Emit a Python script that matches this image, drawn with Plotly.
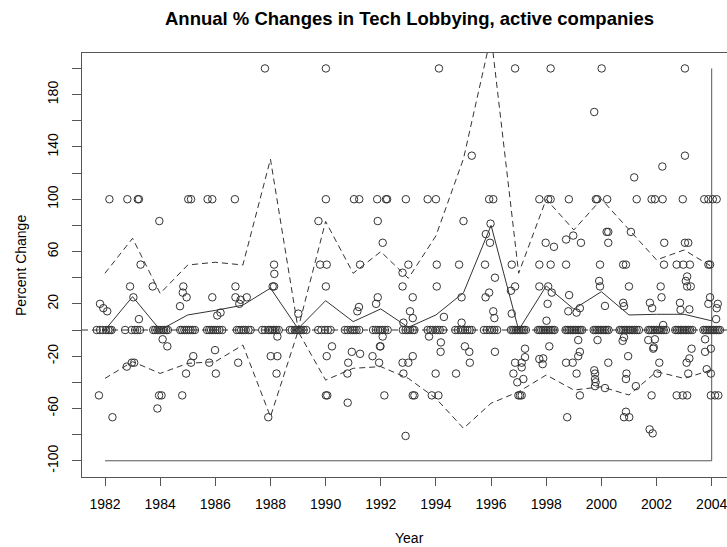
import plotly.graph_objects as go

# ---- yearly summary lines -------------------------------------------------
years = list(range(1982, 2005))
mean_pct = [0, 25.5, 0, 11.5, 15, 19, 32, 1, 22.4, 6.4, 16.1, 2, 11.5, 28.5,
            80, 0, 33.7, 16, 29.3, 11.5, 12, 12, 7]
upper_pct = [43.4, 70.1, 28, 49.7, 51.8, 49.7, 130.6, 1, 83, 43.4, 59.9, 39.5,
             72, 131, 225, 43.4, 100, 76.5, 100, 76.5, 53.6, 61.2, 48.5]
lower_pct = [-37, -24.2, -33.2, -25.5, -24.2, -11.5, -66.3, -1, -38.3, -29.3,
             -28, -37, -52.3, -75.2, -56, -47.2, -34.4, -45.9, -43.4, -49.7,
             -31.9, -37, -30.6]

# ---- companies with no change (jittered year positions) -------------------
zero_years = [
    1981.70, 1981.82, 1981.92, 1982.04, 1982.12, 1982.18, 1982.24,
    1982.73, 1982.97, 1983.09, 1983.17, 1983.27,
    1983.75, 1983.82, 1983.90, 1983.96, 1984.03, 1984.10, 1984.15, 1984.22, 1984.28,
    1984.73, 1984.80, 1984.88, 1984.95, 1985.03, 1985.10, 1985.18, 1985.26,
    1985.70, 1985.78, 1985.85, 1985.92, 1986.00, 1986.07, 1986.15, 1986.25,
    1986.78, 1986.86, 1986.94, 1987.02, 1987.10, 1987.20, 1987.28,
    1987.70, 1987.80, 1987.92, 1987.98, 1988.05, 1988.10, 1988.16, 1988.22, 1988.30,
    1988.70, 1988.78, 1988.88, 1988.94, 1989.00, 1989.06, 1989.12, 1989.20, 1989.30,
    1989.73, 1989.85, 1989.98, 1990.08, 1990.18,
    1990.70, 1990.80, 1990.90, 1990.98, 1991.05, 1991.12, 1991.22,
    1991.72, 1991.82, 1991.90, 1991.98, 1992.06, 1992.15, 1992.25,
    1992.80, 1992.90, 1992.98, 1993.06, 1993.16, 1993.22,
    1993.70, 1993.80, 1993.88, 1993.98, 1994.06, 1994.14, 1994.26,
    1994.70, 1994.80, 1994.90, 1994.98, 1995.06, 1995.14, 1995.22, 1995.30,
    1995.74, 1995.85, 1995.95, 1996.04, 1996.12, 1996.22,
    1996.72, 1996.78, 1996.84, 1996.90, 1996.96, 1997.02, 1997.08, 1997.14, 1997.20, 1997.26,
    1997.70, 1997.76, 1997.82, 1997.88, 1997.94, 1998.00, 1998.06, 1998.12, 1998.18, 1998.24, 1998.30,
    1998.70, 1998.76, 1998.82, 1998.88, 1998.94, 1999.00, 1999.06, 1999.12, 1999.18, 1999.24, 1999.30,
    1999.72, 1999.78, 1999.84, 1999.90, 1999.96, 2000.02, 2000.08, 2000.14, 2000.20, 2000.26,
    2000.66, 2000.72, 2000.78, 2000.84, 2000.90, 2000.96, 2001.02, 2001.08, 2001.14, 2001.20, 2001.28, 2001.36,
    2001.70, 2001.76, 2001.82, 2001.88, 2001.94, 2002.00, 2002.06, 2002.12, 2002.18, 2002.26, 2002.34,
    2002.68, 2002.74, 2002.80, 2002.86, 2002.92, 2002.98, 2003.04, 2003.10, 2003.16, 2003.22, 2003.30,
    2003.70, 2003.76, 2003.82, 2003.88, 2003.94, 2004.00, 2004.06, 2004.12, 2004.18, 2004.24, 2004.30,
]

# ---- companies whose lobbying changed (jittered year, % change) -----------
chg_years = [
    # 1982-1989
    1981.78, 1981.82, 1981.94, 1982.08, 1982.16, 1982.27, 1982.79, 1982.81, 1982.91,
    1982.97, 1983.03, 1983.06, 1983.19, 1983.23, 1983.23, 1983.29, 1983.73, 1983.90,
    1983.96, 1983.97, 1984.05, 1984.09, 1984.26, 1984.72, 1984.80, 1984.82, 1984.84,
    1984.94, 1984.96, 1985.02, 1985.12, 1985.12, 1985.20, 1985.72, 1985.78, 1985.89,
    1985.89, 1985.99, 1986.02, 1986.07, 1986.19, 1986.71, 1986.73, 1986.73, 1986.83,
    1986.87, 1986.92, 1987.14, 1987.80, 1987.92, 1988.01, 1988.08, 1988.13, 1988.13,
    1988.14, 1988.22, 1988.25, 1988.25, 1989.01,
    # 1990-1996
    1989.74, 1989.80, 1990.01, 1990.01, 1990.01, 1990.01, 1990.04, 1990.04, 1990.06,
    1990.23, 1990.79, 1990.80, 1990.82, 1990.95, 1991.03, 1991.15, 1991.21, 1991.22,
    1991.25, 1991.25, 1991.70, 1991.83, 1991.87, 1991.89, 1991.89, 1991.94, 1991.97,
    1991.99, 1992.07, 1992.07, 1992.13, 1992.19, 1992.23, 1992.79, 1992.79, 1992.79,
    1992.82, 1992.82, 1992.90, 1992.91, 1993.00, 1993.00, 1993.06, 1993.16, 1993.16,
    1993.16, 1993.16, 1993.22, 1993.70, 1993.75, 1993.85, 1993.99, 1994.00, 1994.03,
    1994.03, 1994.09, 1994.11, 1994.17, 1994.18, 1994.29, 1994.73, 1994.84, 1994.93,
    1994.93, 1995.00, 1995.05, 1995.21, 1995.23, 1995.30, 1995.78, 1995.80, 1995.81,
    1995.93, 1995.93, 1995.96, 1995.98, 1996.08, 1996.08, 1996.12, 1996.14, 1996.14,
    # 1997-2004
    1996.72, 1996.75, 1996.75, 1996.81, 1996.87, 1996.87, 1996.87, 1996.95, 1996.99,
    1997.05, 1997.11, 1997.11, 1997.11, 1997.17, 1997.23, 1997.23, 1997.75, 1997.75,
    1997.75, 1997.75, 1997.87, 1997.89, 1997.98, 1998.01, 1998.05, 1998.07, 1998.07,
    1998.11, 1998.16, 1998.16, 1998.16, 1998.20, 1998.28, 1998.72, 1998.72, 1998.72,
    1998.76, 1998.80, 1998.82, 1998.83, 1998.96, 1998.98, 1999.10, 1999.10, 1999.16,
    1999.16, 1999.22, 1999.22, 1999.22, 1999.26, 1999.74, 1999.74, 1999.77, 1999.77,
    1999.77, 1999.79, 1999.80, 1999.85, 1999.86, 1999.92, 1999.95, 1999.95, 2000.01,
    2000.13, 2000.13, 2000.19, 2000.21, 2000.25, 2000.25, 2000.25, 2000.77, 2000.79,
    2000.79, 2000.82, 2000.82, 2000.82, 2000.89, 2000.89, 2000.89, 2000.91, 2000.97,
    2001.00, 2001.01, 2001.07, 2001.19, 2001.25, 2001.28, 2001.70, 2001.75, 2001.76,
    2001.82, 2001.82, 2001.84, 2001.86, 2001.88, 2001.90, 2001.94, 2001.94, 2002.03,
    2002.10, 2002.15, 2002.18, 2002.21, 2002.22, 2002.24, 2002.27, 2002.28, 2002.73,
    2002.73, 2002.85, 2002.87, 2002.95, 2002.95, 2002.97, 2003.03, 2003.03, 2003.03,
    2003.06, 2003.09, 2003.11, 2003.11, 2003.11, 2003.15, 2003.15, 2003.19, 2003.19,
    2003.21, 2003.24, 2003.27, 2003.73, 2003.76, 2003.76, 2003.82, 2003.88, 2003.88,
    2003.88, 2003.94, 2003.94, 2003.97, 2003.97, 2003.97, 2004.04, 2004.12, 2004.16,
    2004.18, 2004.18, 2004.22, 2004.24,
]
chg_pct = [
    # 1982-1989
    -50, 20, 16.7, 14.3, 100, -66.7, -28, 100, 33.3,
    -25, 25, -25, 100, 100, 8.3, 50, 33.3, -60,
    -50, 83.3, -50, -7.1, -12.5, 18.2, -50, 28.6, 33.3,
    -33.3, 25, 100, 100, -25, -20, 100, -25, 100,
    25, -15.4, -33.3, 11.1, 13.3, 100, 33.3, 25, -25,
    20, 23.1, 25, 200, -66.7, -20, 33.3, 50, 33.3,
    42.9, -33.3, -5, -20, 12.5,
    # 1990-1996
    83.3, 50, 200, 100, 33.3, -50, 50, -20, -50,
    -12.5, -33.3, -55.6, -25, -16.7, 100, 14.3, 17.6, 100,
    50, -18.2, -20, 20, 100, 83.3, 25, -25, -12.5,
    -12.5, 66.7, -5, -50, 100, 100, 43.8, 33.3, -25,
    5.6, -33.3, -81, 100, 50, -25, 14.3, 25, 9.1,
    -20, -50, -50, 100, -5, -50, -33.3, 100, 50,
    33.3, -50, 200, -16.7, -9.5, 10, -33.3, 50, 25,
    5.6, 83.3, -12.5, -16.7, -25, 133.3, 50, 25, 73.3,
    28.6, 100, 66.7, 81.3, 100, 14.3, 9.1, 40, -16.7,
    # 1997-2004
    30, 50, 12.5, -33.3, 200, 33.3, -25, -40, -50,
    -50, -50, -25, -28.6, -37.5, -14.3, -20.8, 100, 50,
    33.3, -22.2, -26.1, -21.7, 66.7, 7.1, 20, 100, 33.3,
    -12.5, 200, 100, 50, 28.6, 63.6, 69.2, 50, -25,
    -66.7, 14.3, 100, 26.7, -25, 72.2, 13.3, -33.3, -7.7,
    -20, 16.7, -16.7, -50, 66.7, 166.7, -30.8, -33.3, -37.5,
    -42.9, -40, 100, 100, -7.7, 37.5, 33.3, 50, 200,
    18.4, -44.4, 75, 100, 75, 66.7, -25, -8.3, 20.8,
    50, 18.2, -5.6, -66.7, 50, -37.5, -62.5, -33.3, -20,
    33.3, -66.7, 75, 116.7, -42.9, 100, -7.7, -76, 20.8,
    100, -50, 16.7, -79, -14.3, -13.3, 100, -7.1, -33.3,
    -25, 33.3, 25, 125, 100, 3.8, 50, 66.7, 50,
    -50, 20.8, 15.4, 100, -50, 50, 200, 133.3, 66.7,
    37.5, -25, 40.9, 33.3, -50, 66.7, -33.3, 15.8, -21.7,
    50, 33.3, -14.3, 100, -7.1, -16.7, -30, 100, 50,
    20, 25, 50, -14.3, -33.3, -50, 100, -50, 8.3,
    100, 16.7, 20, -50,
]

# reference frame drawn along the bottom and right of the data
frame_years = [1982, 2004, 2004]
frame_pct = [-100, -100, 200]

ink = "#333333"
axis_ink = "#555555"
font_family = "Liberation Sans, Arial, sans-serif"

fig = go.Figure()

fig.add_hline(y=0, line=dict(color=ink, width=1, dash="6px,4px"), layer="below")

fig.add_trace(go.Scatter(
    x=frame_years, y=frame_pct, mode="lines",
    line=dict(color=axis_ink, width=1), hoverinfo="skip", showlegend=False))

marker_style = dict(symbol="circle-open", size=7.5, color=ink, line=dict(width=1))

fig.add_trace(go.Scatter(
    x=zero_years, y=[0] * len(zero_years), mode="markers",
    marker=marker_style, showlegend=False))

fig.add_trace(go.Scatter(
    x=chg_years, y=chg_pct, mode="markers",
    marker=marker_style, showlegend=False))

for series, dash in ((upper_pct, "6px,4px"), (lower_pct, "6px,4px"), (mean_pct, "solid")):
    fig.add_trace(go.Scatter(
        x=years, y=series, mode="lines",
        line=dict(color=ink, width=1, dash=dash), showlegend=False))

x_ticks = list(range(1982, 2005, 2))
y_ticks = list(range(-100, 201, 20))
y_labels = [str(v) if (v + 100) % 40 == 0 and v <= 180 else "" for v in y_ticks]

fig.update_xaxes(
    range=[1981.166, 2004.555], tickvals=x_ticks, ticktext=[str(v) for v in x_ticks],
    ticks="outside", ticklen=8, tickcolor=axis_ink, showline=True, linecolor=axis_ink,
    linewidth=1, mirror=True, showgrid=False, zeroline=False, ticklabelstandoff=6,
    ticklabeloverflow="allow",
    tickfont=dict(family=font_family, size=14, color="black"))
fig.update_yaxes(
    range=[-112.4, 211.8], tickvals=y_ticks, ticktext=y_labels, tickangle=-90,
    ticks="outside", ticklen=9, tickcolor=axis_ink, showline=True, linecolor=axis_ink,
    linewidth=1, mirror=False, showgrid=False, zeroline=False, ticklabelstandoff=8,
    tickfont=dict(family=font_family, size=14, color="black"))

fig.update_layout(
    width=727, height=547,
    margin=dict(l=82, r=0, t=53, b=70),
    paper_bgcolor="white", plot_bgcolor="white",
    font=dict(family=font_family, color="black"),
    annotations=[
        dict(text="<b>Annual % Changes in Tech Lobbying, active companies</b>",
             xref="paper", yref="paper", x=0.507, y=1.0802, xanchor="center",
             yanchor="middle", showarrow=False, font=dict(size=18.5)),
        dict(text="Year", xref="paper", yref="paper", x=0.507, y=-0.1439,
             xanchor="center", yanchor="middle", showarrow=False, font=dict(size=14)),
        dict(text="Percent Change", xref="paper", yref="paper", x=-0.0946, y=0.5,
             xanchor="center", yanchor="middle", textangle=-90, showarrow=False,
             font=dict(size=14)),
    ],
)

fig.write_html("out.html")
